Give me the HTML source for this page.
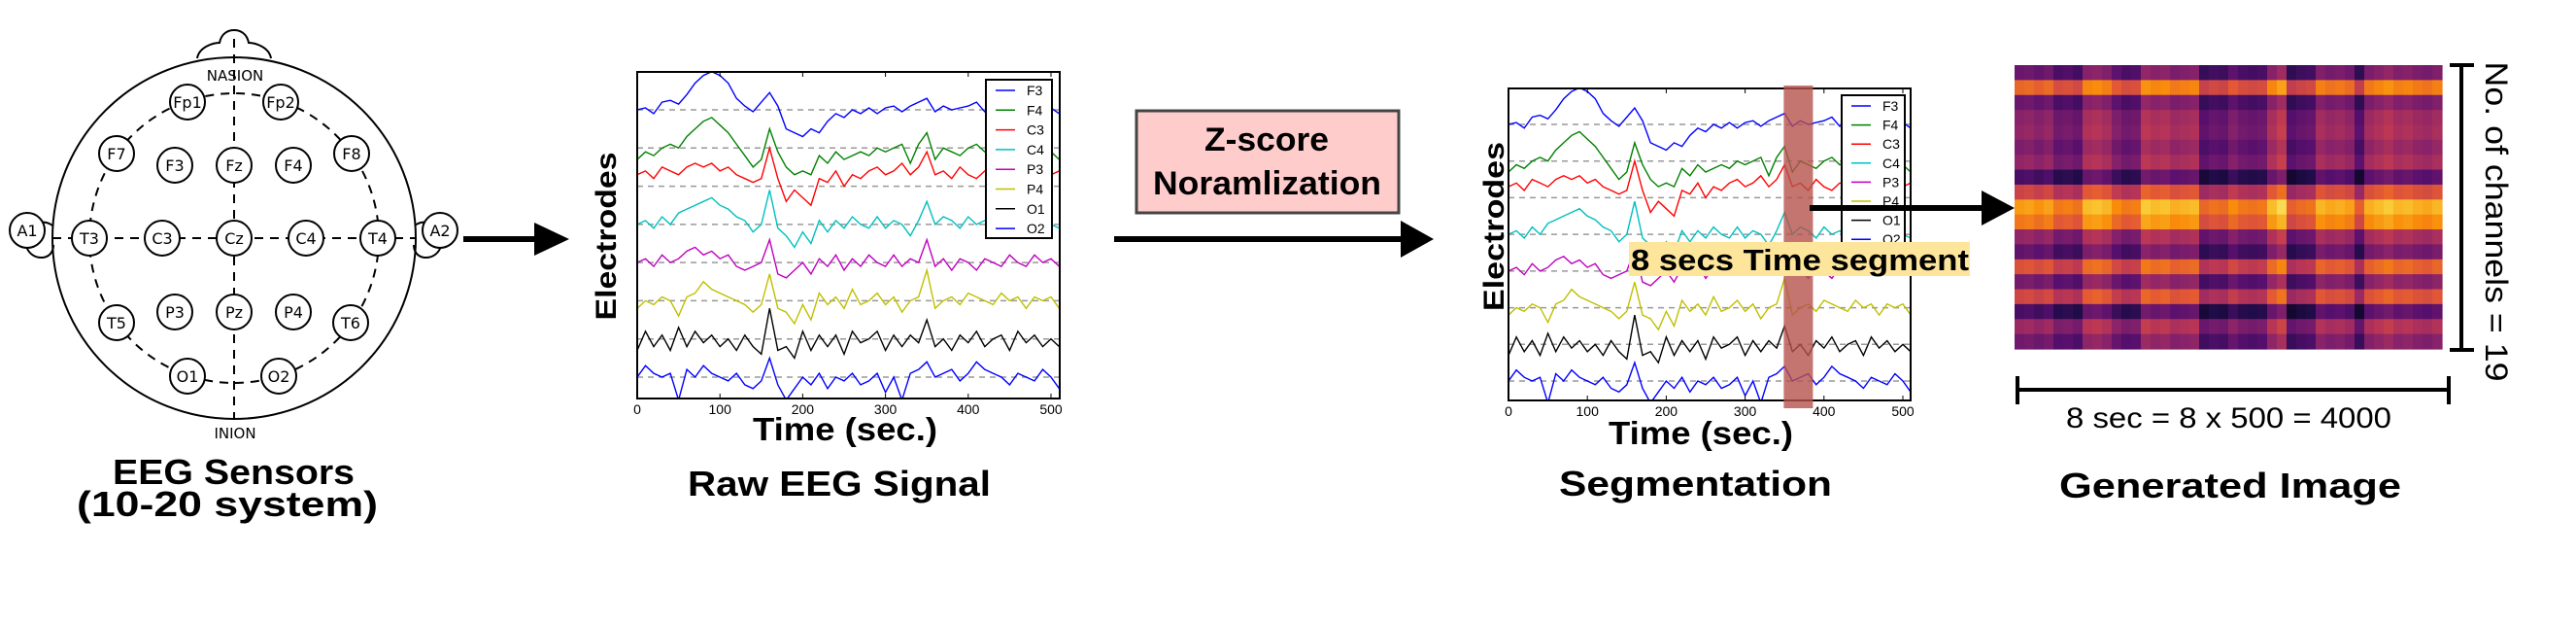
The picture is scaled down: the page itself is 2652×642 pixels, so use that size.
<!DOCTYPE html>
<html><head><meta charset="utf-8"><style>
html,body{margin:0;padding:0;background:#fff;}
svg{display:block;font-family:"Liberation Sans",sans-serif;}
</style></head><body>
<svg id="fig" width="2652" height="642" viewBox="0 0 2652 642" xmlns="http://www.w3.org/2000/svg">
<rect width="2652" height="642" fill="#fff"/>
<!-- HEAD -->
<g id="head" stroke="#000" fill="none" stroke-width="2">
  <path d="M203,60 C205,48 220,44 226,44 C228,34 235,31 241,31 C247,31 254,34 256,44 C262,44 277,48 279,60"/>
  <path d="M54,232 C46,226 34,228 28,236 C22,248 28,266 44,265 C52,264 55,258 55,252"/>
  <path d="M427,232 C435,226 447,228 453,236 C459,248 453,266 437,265 C429,264 426,258 426,252"/>
  <ellipse cx="241" cy="245" rx="187" ry="186"/>
  <circle cx="241" cy="245" r="149" stroke-dasharray="9,7"/>
  <line x1="241" y1="40" x2="241" y2="431" stroke-dasharray="9,7"/>
  <line x1="54" y1="245" x2="427" y2="245" stroke-dasharray="9,7"/>
</g>
<text x="242" y="83" font-family="DejaVu Sans, sans-serif" font-size="15" text-anchor="middle">NASION</text>
<text x="242" y="451" font-family="DejaVu Sans, sans-serif" font-size="15" text-anchor="middle">INION</text>
<g id="electrodes"></g>
<text x="116" y="498" font-size="36" font-weight="bold" textLength="249" lengthAdjust="spacingAndGlyphs">EEG Sensors</text>
<text x="79" y="531" font-size="36" font-weight="bold" textLength="310" lengthAdjust="spacingAndGlyphs">(10-20 system)</text>

<!-- Arrow 1 -->
<g>
<line x1="477" y1="246" x2="560" y2="246" stroke="#000" stroke-width="6"/>
<polygon points="550,229 586,246 550,263" fill="#000"/>
</g>

<g id="rawplot"></g>
<text transform="translate(634,243) rotate(-90)" font-size="30" font-weight="bold" text-anchor="middle" textLength="173" lengthAdjust="spacingAndGlyphs">Electrodes</text>
<text x="775" y="453" font-size="33" font-weight="bold" textLength="190" lengthAdjust="spacingAndGlyphs">Time (sec.)</text>
<text x="708" y="510" font-size="36" font-weight="bold" textLength="312" lengthAdjust="spacingAndGlyphs">Raw EEG Signal</text>

<!-- Z-score box -->
<rect x="1170" y="114" width="270" height="105" fill="#ffcccc" stroke="#444" stroke-width="3"/>
<text x="1240" y="155" font-size="34" font-weight="bold" textLength="128" lengthAdjust="spacingAndGlyphs">Z-score</text>
<text x="1187" y="200" font-size="34" font-weight="bold" textLength="235" lengthAdjust="spacingAndGlyphs">Noramlization</text>

<g>
<line x1="1147" y1="246" x2="1450" y2="246" stroke="#000" stroke-width="6"/>
<polygon points="1442,227 1476,246 1442,265" fill="#000"/>
</g>

<g id="segplot"></g>
<text transform="translate(1548,233) rotate(-90)" font-size="30" font-weight="bold" text-anchor="middle" textLength="174" lengthAdjust="spacingAndGlyphs">Electrodes</text>
<text x="1656" y="457" font-size="33" font-weight="bold" textLength="190" lengthAdjust="spacingAndGlyphs">Time (sec.)</text>
<text x="1605" y="510" font-size="36" font-weight="bold" textLength="281" lengthAdjust="spacingAndGlyphs">Segmentation</text>

<g>
<line x1="1863" y1="214" x2="2050" y2="214" stroke="#000" stroke-width="6"/>
<polygon points="2040,196 2074,214 2040,232" fill="#000"/>
</g>
<rect x="1677" y="249" width="351" height="35" fill="#fde59b"/>
<text x="1679" y="278" font-size="31" font-weight="bold" textLength="348" lengthAdjust="spacingAndGlyphs">8 secs Time segment</text>

<g id="heatmap"></g>
<g stroke="#000" stroke-width="4">
<line x1="2534" y1="67" x2="2534" y2="360"/><line x1="2522" y1="67" x2="2547" y2="67"/><line x1="2522" y1="360" x2="2547" y2="360"/>
</g>
<text transform="translate(2559,228) rotate(90)" font-size="32" text-anchor="middle" textLength="329" lengthAdjust="spacingAndGlyphs">No. of channels = 19</text>
<g stroke="#000" stroke-width="4">
<line x1="2077" y1="401" x2="2521" y2="401"/><line x1="2077" y1="387" x2="2077" y2="416"/><line x1="2521" y1="387" x2="2521" y2="416"/>
</g>
<text x="2127" y="440" font-size="30" textLength="335" lengthAdjust="spacingAndGlyphs">8 sec = 8 x 500 = 4000</text>
<text x="2120" y="512" font-size="36" font-weight="bold" textLength="352" lengthAdjust="spacingAndGlyphs">Generated Image</text>
</svg>
<script>
const NS="http://www.w3.org/2000/svg";
const channels=["F3","F4","C3","C4","P3","P4","O1","O2"];
const colors=["#0000ff","#008000","#ff0000","#00bfbf","#bf00bf","#bfbf00","#000000","#0000ff"];
const times=[0,10,20,30,40,50,60,70,80,90,100,110,120,130,140,150,160,170,180,190,200,210,220,230,240,250,260,270,280,290,300,310,320,330,340,350,360,370,380,390,400,410,420,430,440,450,460,470,480,490,500,510];
const xTicks=[0,100,200,300,400,500];
const sF3=[0.0,0.05,-0.1,0.2,0.25,0.15,0.4,0.7,0.9,1.0,0.9,0.7,0.3,0.1,-0.05,0.2,0.45,0.1,-0.5,-0.6,-0.7,-0.5,-0.6,-0.3,-0.1,-0.2,0.0,-0.1,0.05,-0.1,0.05,0.1,-0.05,0.1,0.2,0.3,-0.05,0.1,0.0,0.05,0.1,0.2,-0.05,0.1,0.0,0.05,0.0,0.1,-0.05,0.0,0.05,-0.1];
const sF4=[-0.3,-0.1,-0.2,0.0,0.1,0.0,0.3,0.5,0.7,0.8,0.6,0.4,0.1,-0.2,-0.5,-0.3,0.5,-0.1,-0.5,-0.7,-0.6,-0.7,-0.2,-0.4,-0.1,-0.3,-0.2,-0.1,-0.2,0.0,-0.1,0.0,0.1,-0.4,0.1,0.4,-0.3,0.0,-0.1,-0.2,0.0,0.1,-0.1,0.0,-0.2,0.1,0.0,-0.1,0.0,0.1,-0.1,-0.3];
const sC3=[0.3,0.4,0.2,0.5,0.4,0.3,0.5,0.6,0.5,0.6,0.4,0.5,0.3,0.2,0.1,0.2,1.0,0.2,-0.4,-0.1,-0.3,-0.5,0.2,0.1,0.4,0.0,0.3,0.2,0.4,0.5,0.3,0.4,0.6,0.3,0.5,0.9,0.3,0.4,0.2,0.5,0.3,0.2,0.4,0.3,0.2,0.4,0.3,0.5,0.3,0.4,0.3,0.4];
const sC4=[0.0,0.1,-0.1,0.2,0.0,0.3,0.4,0.5,0.6,0.7,0.5,0.4,0.2,0.1,-0.2,0.0,0.9,-0.1,-0.3,-0.6,-0.2,-0.5,0.1,-0.2,0.1,-0.1,0.2,0.0,-0.1,0.2,-0.1,0.1,0.0,-0.3,0.1,0.6,0.0,0.2,0.1,-0.1,0.2,0.0,0.1,-0.1,0.2,0.0,0.1,-0.1,0.0,0.1,0.0,-0.1];
const sP3=[0.0,0.1,-0.1,0.2,0.0,0.1,0.3,0.4,0.2,0.3,0.1,0.2,-0.1,-0.2,-0.1,0.0,0.6,-0.3,-0.4,-0.2,0.0,-0.3,0.1,-0.1,0.2,-0.2,0.1,-0.1,0.2,0.0,-0.1,0.2,-0.1,0.1,0.0,0.6,-0.1,0.1,-0.2,0.1,0.0,-0.2,0.1,0.0,-0.1,0.2,0.0,-0.1,0.2,0.0,0.1,-0.1];
const sP4=[-0.2,0.0,-0.1,0.1,0.0,-0.4,0.1,0.2,0.5,0.3,0.2,0.1,0.0,-0.1,-0.3,-0.1,0.7,-0.2,-0.3,-0.6,-0.1,-0.5,0.2,-0.1,0.1,-0.2,0.3,-0.1,0.0,0.2,-0.1,0.1,-0.3,0.0,0.1,0.8,-0.2,0.0,0.1,-0.1,0.2,0.1,0.0,-0.1,0.2,0.0,0.1,-0.2,0.1,0.0,0.1,-0.2];
const sO1=[-0.3,0.2,-0.2,0.1,-0.3,0.3,-0.2,0.2,-0.1,0.1,-0.2,0.0,-0.3,0.1,-0.2,-0.4,0.8,-0.3,-0.2,-0.5,0.2,-0.3,0.1,-0.2,0.1,-0.4,0.2,-0.1,0.0,0.2,-0.3,0.1,-0.2,0.1,-0.1,0.5,-0.2,0.0,-0.3,0.1,-0.1,0.2,-0.2,0.0,0.1,-0.3,0.2,-0.1,0.1,-0.2,0.0,-0.2];
const sO2=[0.0,0.3,0.1,0.0,0.1,-0.6,0.2,0.0,0.3,0.1,0.0,-0.1,0.1,-0.2,-0.3,-0.1,0.5,-0.2,-0.6,-0.3,0.0,-0.2,0.1,-0.3,0.0,-0.1,0.1,-0.2,-0.1,0.1,-0.4,0.0,-0.6,0.1,0.2,0.4,0.0,0.1,0.2,-0.1,0.1,0.4,0.2,0.1,0.0,-0.2,0.1,0.0,-0.1,0.2,0.0,-0.3];
const series=[sF3,sF4,sC3,sC4,sP3,sP4,sO1,sO2];
const electrodeNames=["Fp1","Fp2","F7","F3","Fz","F4","F8","A1","T3","C3","Cz","C4","T4","A2","T5","P3","Pz","P4","T6","O1","O2"];
const electrodePos=[[193,105],[289,105],[120,158],[180,170],[241,170],[302,170],[362,158],[28,237],[92,245],[167,245],[241,245],[315,245],[389,245],[453,237],[120,332],[180,321],[241,321],[302,321],[361,332],[193,387],[287,387]];
const rowLevels=[0.3,0.66,0.3,0.38,0.4,0.35,0.4,0.22,0.55,0.78,0.7,0.4,0.28,0.6,0.33,0.56,0.22,0.42,0.32];
const colMods=[0,0.1,-0.1,0.1,-0.5,-0.4,-0.6,0.5,0.6,0.4,-0.2,-0.5,-0.4,0.7,0.5,0.6,0.3,0.4,0.5,-0.8,-0.6,-0.7,-0.2,-0.5,-0.6,-0.5,0.5,0.9,-0.9,-0.7,-0.6,0.4,0.2,0.3,0.1,-0.9,0.3,0.5,0.7,0.4,0.5,0.3,0.2,0.4];

function mk(tag,attrs,parent){const e=document.createElementNS(NS,tag);for(const k in attrs)e.setAttribute(k,attrs[k]);parent.appendChild(e);return e;}

const eg=document.getElementById('electrodes');
electrodeNames.forEach((n,i)=>{
  const g=mk('g',{},eg);
  
  
  mk('circle',{cx:electrodePos[i][0],cy:electrodePos[i][1],r:18,fill:'#fff',stroke:'#000','stroke-width':2},g);
  const t=mk('text',{x:electrodePos[i][0],y:electrodePos[i][1]+6,'font-family':'DejaVu Sans, sans-serif','font-size':16,'text-anchor':'middle'},g);
  t.textContent=n;
});

function drawPlot(gid,L,R,T,B,x500,base0,base7,legend){
  const g=document.getElementById(gid);
  const xS=t=>L+(t/500)*(x500-L);
  const sp=(base7-base0)/7;
  const yS=(i,v)=>base0+i*sp-v*sp;
  const clip='clip-'+gid;
  const defs=mk('defs',{},g);const cp=mk('clipPath',{id:clip},defs);mk('rect',{x:L,y:T,width:R-L,height:B-T},cp);
  mk('rect',{x:L,y:T,width:R-L,height:B-T,fill:'#fff'},g);
  const cg=mk('g',{'clip-path':'url(#'+clip+')'},g);
  series.forEach((s,i)=>{
    const bl=mk('line',{x1:L,x2:R,y1:yS(i,0),y2:yS(i,0),stroke:'#999','stroke-width':1.5,'stroke-dasharray':'6,5'},cg);
    
    
    const d=s.map((v,k)=>(k?'L':'M')+xS(times[k]).toFixed(1)+','+yS(i,v).toFixed(1)).join(' ');
    const p=mk('path',{d:d,fill:'none',stroke:colors[i],'stroke-width':1.4},cg);
    
    
  });
  mk('rect',{x:L,y:T,width:R-L,height:B-T,fill:'none',stroke:'#000','stroke-width':2},g);
  xTicks.forEach(t=>{
    mk('line',{x1:xS(t),x2:xS(t),y1:T,y2:T+5,stroke:'#000'},g);
    mk('line',{x1:xS(t),x2:xS(t),y1:B,y2:B-5,stroke:'#000'},g);
    const tx=mk('text',{x:xS(t),y:B+16,'font-size':14,'text-anchor':'middle'},g);
    tx.textContent=t;
    
    
  });
  const lg=mk('g',{},g);
  
  
  mk('rect',{x:legend.x,y:legend.y,width:legend.w,height:legend.h,fill:'#fff',stroke:'#000','stroke-width':2},lg);
  channels.forEach((c,i)=>{
    const yy=legend.y+11+i*legend.step;
    const e=mk('g',{},lg);
    
    
    mk('line',{x1:legend.x+10,x2:legend.x+30,y1:yy,y2:yy,stroke:colors[i],'stroke-width':1.5},e);
    const t=mk('text',{x:legend.x+42,y:yy+5,'font-size':14},e);t.textContent=c;
  });
  return {xS};
}
drawPlot('rawplot',656,1091,74,410,1082,113,388,{x:1015,y:82,w:68,h:163,step:20.3});
const sp2=drawPlot('segplot',1553,1967,91,412,1959,128,392,{x:1896,y:98,w:65,h:158,step:19.6});
const segStart=349,segEnd=386;
const sb=mk('rect',{x:sp2.xS(segStart),y:88,width:sp2.xS(segEnd)-sp2.xS(segStart),height:332,fill:'#b5524c','fill-opacity':0.8},document.getElementById('segplot'));



const inf=[[0,[0,0,4]],[0.13,[31,12,72]],[0.25,[85,15,109]],[0.38,[136,34,106]],[0.5,[186,54,85]],[0.63,[227,89,51]],[0.75,[249,140,10]],[0.88,[249,201,50]],[1,[252,255,164]]];
function infc(v){v=Math.max(0,Math.min(1,v));for(let i=1;i<inf.length;i++){if(v<=inf[i][0]){const a=inf[i-1],b=inf[i];const f=(v-a[0])/(b[0]-a[0]);return 'rgb('+a[1].map((c,j)=>Math.round(c+(b[1][j]-c)*f)).join(',')+')';}}return 'rgb(252,255,164)';}
const hm=document.getElementById('heatmap');
const HX=2074,HY=67,HW=440,HH=292;
const cw=HW/colMods.length,rh=HH/rowLevels.length;
rowLevels.forEach((r,i)=>{colMods.forEach((c,j)=>{
  const cell=mk('rect',{x:(HX+j*cw).toFixed(2),y:(HY+i*rh).toFixed(2),width:(cw+0.6).toFixed(2),height:(rh+0.6).toFixed(2),fill:infc(r+c*0.15)},hm);
  
  
});});
</script>
</body></html>
